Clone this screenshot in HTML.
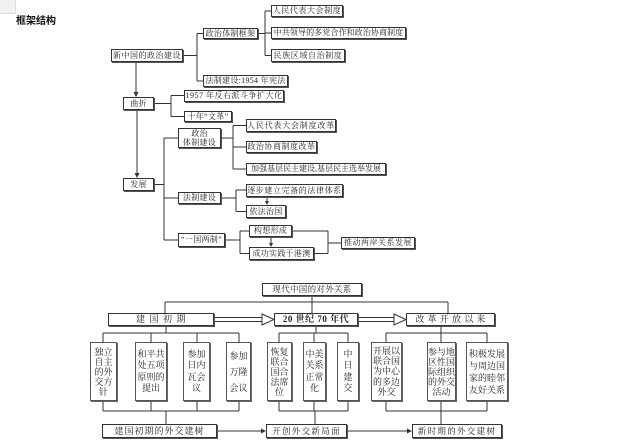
<!DOCTYPE html>
<html><head><meta charset="utf-8">
<style>
html,body{margin:0;padding:0;background:#fff;}
#c{position:relative;width:640px;height:443px;overflow:hidden;background:#fff;font-family:"Liberation Serif","Noto Serif CJK SC",serif;color:#222;}
.b{position:absolute;box-sizing:border-box;border:1px solid #333;box-shadow:1px 1px 0 #555;background:#fff;display:flex;align-items:center;justify-content:center;white-space:nowrap;font-size:8px;letter-spacing:0.3px;line-height:1;}
.v{position:absolute;box-sizing:border-box;border:1px solid #555;box-shadow:1px 1px 0 #666;background:#fff;display:flex;flex-direction:column;align-items:center;justify-content:center;white-space:nowrap;font-size:9px;}
.v span{display:block;}
svg{position:absolute;left:0;top:0;}
</style></head><body>
<div id="c">
<div style="position:absolute;left:0;top:0;width:15px;height:13px;background:#f1f1f1;border-right:1px solid #ddd;border-bottom:1px solid #ddd;"></div>
<div style="position:absolute;left:16px;top:15px;font-family:'Liberation Sans','Noto Sans CJK SC',sans-serif;font-weight:bold;font-size:10px;line-height:13px;color:#111;">框架结构</div>

<svg width="640" height="443" viewBox="0 0 640 443">
<g stroke="#333" stroke-width="1" fill="none">
<path d="M183 55.5H197M197 33.5V81M197 33.5H203M197 81H203"/>
<path d="M258 33.5H265M265 11V55.5M265 11H271M265 33H271M265 55.5H271"/>
<path d="M136 62V93"/>
<path d="M154 103.5H171M171 95.5V116.5M171 95.5H184M171 116.5H184"/>
<path d="M137 110V174"/>
<path d="M154 184.5H164M164 138V240M164 138H178M164 198H178M164 240H178"/>
<path d="M221 138H233M233 125.5V169M233 125.5H246M233 147H246M233 169H246"/>
<path d="M221 198H236M236 190V211.5M236 190H246M236 211.5H246"/>
<path d="M267 197V202"/>
<path d="M225 240H240M240 231V253.5M240 231H249M240 253.5H249"/>
<path d="M271 237V244"/>
<path d="M292 231H328M314 253.5H328M328 231V253.5M328 243H341"/>
<!-- bottom -->
<path d="M312 296V313M165 302H448M165 302V313M448 302V313"/>
<path d="M214 317.5H262M214 321.5H262"/>
<path d="M358 317.5H394M358 321.5H394"/>
<path d="M166 326V333M103 333H239M103 333V342M151 333V342M197 333V342M239 333V342"/>
<path d="M103 401V411M151 401V411M197 401V411M239 401V411M103 411H239M166 411V424"/>
<path d="M316 326V333M279 333H348M279 333V342M314 333V342M348 333V342"/>
<path d="M279 401V411M314 401V411M348 401V411M279 411H348M315 411V424"/>
<path d="M441 326V333M386 333H487M386 333V342M441 333V342M487 333V342"/>
<path d="M386 401V411M441 401V411M487 401V411M386 411H487M441 411V424"/>
<path d="M217 431H262M347 431H408"/>
</g>
<g fill="#333">
<polygon points="133.5,92 138.5,92 136,97"/>
<polygon points="134.5,173 139.5,173 137,178"/>
<polygon points="265,201 269,201 267,205"/>
<polygon points="269,243 273,243 271,247"/>
<polygon points="261,428.5 266,431 261,433.5"/>
<polygon points="407,428.5 412,431 407,433.5"/>
</g>
<g stroke="#333" stroke-width="1" fill="#fff">
<polygon points="262,314 274,319.5 262,325"/>
<polygon points="394,314 406,319.5 394,325"/>
</g>
</svg>

<!-- top tree -->
<div class="b" style="left:111px;top:49px;width:72px;height:13px;letter-spacing:0.5px;">新中国的政治建设</div>
<div class="b" style="left:203px;top:28px;width:55px;height:11px;">政治体制框架</div>
<div class="b" style="left:203px;top:75px;width:85px;height:12px;">法制建设:1954 年宪法</div>
<div class="b" style="left:271px;top:5px;width:72px;height:12px;letter-spacing:0.6px;">人民代表大会制度</div>
<div class="b" style="left:271px;top:27px;width:135px;height:12px;letter-spacing:0.1px;">中共领导的多党合作和政治协商制度</div>
<div class="b" style="left:271px;top:49px;width:74px;height:13px;letter-spacing:0.6px;">民族区域自治制度</div>
<div class="b" style="left:123px;top:97px;width:31px;height:13px;">曲折</div>
<div class="b" style="left:184px;top:90px;width:100px;height:12px;letter-spacing:0.5px;">1957 年反右派斗争扩大化</div>
<div class="b" style="left:184px;top:111px;width:48px;height:11px;">十年“文革”</div>
<div class="b" style="left:178px;top:128px;width:43px;height:20px;flex-direction:column;line-height:9px;"><span>政治</span><span>体制建设</span></div>
<div class="b" style="left:246px;top:119px;width:90px;height:13px;letter-spacing:0.8px;">人民代表大会制度改革</div>
<div class="b" style="left:246px;top:141px;width:71px;height:12px;letter-spacing:0.5px;">政治协商制度改革</div>
<div class="b" style="left:246px;top:163px;width:140px;height:12px;letter-spacing:0;">加强基层民主建设,基层民主选举发展</div>
<div class="b" style="left:123px;top:178px;width:31px;height:13px;">发展</div>
<div class="b" style="left:178px;top:192px;width:43px;height:12px;">法制建设</div>
<div class="b" style="left:246px;top:184px;width:97px;height:13px;letter-spacing:0.6px;">逐步建立完备的法律体系</div>
<div class="b" style="left:246px;top:205px;width:40px;height:13px;">依法治国</div>
<div class="b" style="left:178px;top:233px;width:47px;height:14px;">“一国两制”</div>
<div class="b" style="left:249px;top:225px;width:43px;height:12px;">构想形成</div>
<div class="b" style="left:249px;top:247px;width:65px;height:13px;">成功实践于港澳</div>
<div class="b" style="left:341px;top:237px;width:74px;height:12px;letter-spacing:0.5px;">推动两岸关系发展</div>

<!-- bottom diagram -->
<div class="b" style="left:262px;top:283px;width:100px;height:13px;font-size:8.5px;">现代中国的对外关系</div>
<div class="b" style="left:108px;top:313px;width:106px;height:13px;font-size:9px;letter-spacing:4.5px;padding-left:4px;">建国初期</div>
<div class="b" style="left:274px;top:313px;width:84px;height:13px;font-size:9px;font-weight:bold;letter-spacing:0.5px;">20 世纪 70 年代</div>
<div class="b" style="left:406px;top:313px;width:89px;height:13px;font-size:9px;letter-spacing:3.2px;padding-left:3px;">改革开放以来</div>

<div class="v" style="left:90px;top:342px;width:27px;height:59px;line-height:10px;"><span>独立</span><span>自主</span><span>的外</span><span>交方</span><span>针</span></div>
<div class="v" style="left:135px;top:342px;width:32px;height:59px;line-height:11.3px;"><span>和平共</span><span>处五项</span><span>原则的</span><span>提出</span></div>
<div class="v" style="left:183px;top:342px;width:27px;height:59px;line-height:11.3px;"><span>参加</span><span>日内</span><span>瓦会</span><span>议</span></div>
<div class="v" style="left:226px;top:342px;width:25px;height:59px;line-height:16px;"><span>参加</span><span>万隆</span><span>会议</span></div>

<div class="v" style="left:267px;top:342px;width:25px;height:59px;line-height:10px;"><span>恢复</span><span>联合</span><span>国合</span><span>法席</span><span>位</span></div>
<div class="v" style="left:303px;top:342px;width:23px;height:59px;line-height:11.5px;"><span>中美</span><span>关系</span><span>正常</span><span>化</span></div>
<div class="v" style="left:337px;top:342px;width:22px;height:59px;line-height:11.3px;"><span>中</span><span>日</span><span>建</span><span>交</span></div>

<div class="v" style="left:371px;top:342px;width:31px;height:59px;line-height:10.3px;"><span>开展以</span><span>联合国</span><span>为中心</span><span>的多边</span><span>外交</span></div>
<div class="v" style="left:427px;top:342px;width:29px;height:59px;line-height:10px;"><span>参与地</span><span>区性国</span><span>际组织</span><span>的外交</span><span>活动</span></div>
<div class="v" style="left:466px;top:342px;width:42px;height:59px;line-height:12px;"><span>积极发展</span><span>与周边国</span><span>家的睦邻</span><span>友好关系</span></div>

<div class="b" style="left:102px;top:424px;width:115px;height:14px;font-size:9px;letter-spacing:1px;">建国初期的外交建树</div>
<div class="b" style="left:266px;top:424px;width:81px;height:14px;font-size:8.5px;letter-spacing:1.3px;">开创外交新局面</div>
<div class="b" style="left:412px;top:424px;width:90px;height:14px;font-size:8.5px;letter-spacing:1.3px;">新时期的外交建树</div>
</div>
</body></html>
